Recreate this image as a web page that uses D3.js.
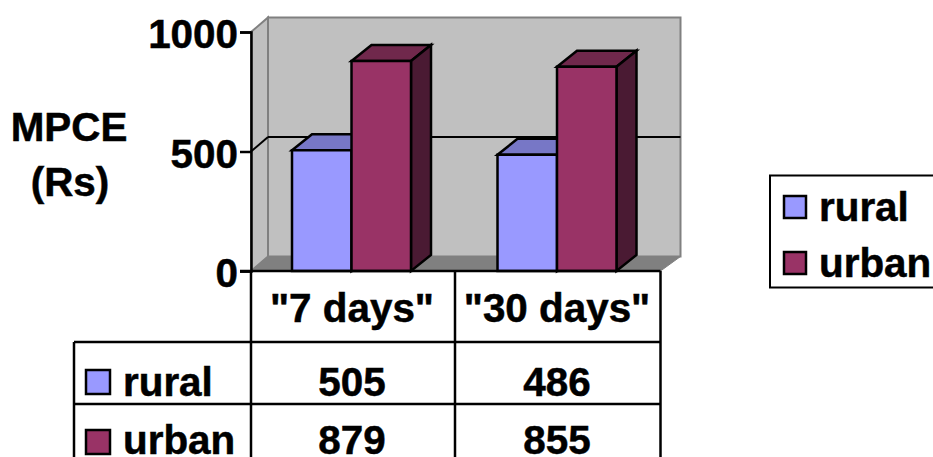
<!DOCTYPE html>
<html><head><meta charset="utf-8">
<script src="https://cdn.jsdelivr.net/npm/d3@7"></script>
<style>html,body{margin:0;padding:0;background:#fff;overflow:hidden}svg{display:block}
text{font-family:"Liberation Sans",Arial,sans-serif;font-weight:700;font-size:40.4px;fill:#000;stroke:#000;stroke-width:.5px}</style>
</head><body><svg id="c" width="933" height="457"></svg>
<script>
const categories = ['"7 days"', '"30 days"'];
const seriesNames = ["rural", "urban"];
const rural = [505, 486];
const urban = [879, 855];
const yTicks = [0, 500, 1000];
const fills = ["#9999FF", "#993366"];
const tops = ["#7777C6", "#70284C"];
const sides = ["#5A5A99", "#4A1A33"];

const svg = d3.select("#c");
const y = d3.scaleLinear().domain([0, 1000]).range([271, 32]);
const x0 = d3.scaleBand().domain(categories).range([251, 662]);
const x1 = d3.scaleBand().domain(seriesNames).range([0, x0.bandwidth()]).paddingOuter(0.727).paddingInner(0).align(0.474);
const tbl = d3.scaleBand().domain(categories).range([250, 660]);
const wd = {x: 17, y: -14.5}, bd = {x: 20, y: -16};
const poly = (pts, fill, stroke, sw) => svg.append("polygon")
  .attr("points", pts.map(p => p.join(",")).join(" "))
  .attr("fill", fill).attr("stroke", stroke || "none").attr("stroke-width", sw || 0).attr("stroke-linejoin", "miter");
const line = (a, b, c, d, col, sw) => svg.append("line").attr("x1", a).attr("y1", b).attr("x2", c).attr("y2", d).attr("stroke", col).attr("stroke-width", sw);

const L = 251, R = 660.5, B = y(0), T = y(1000);
// walls
poly([[L + wd.x, T + wd.y], [R + 20, T + wd.y], [R + 20, B + wd.y], [L + wd.x, B + wd.y]], "#C0C0C0", "#808080", 2);
poly([[L, T], [L + wd.x, T + wd.y], [L + wd.x, B + wd.y], [L, B]], "#C0C0C0", "#808080", 2);
poly([[L, B], [L + wd.x, B + wd.y], [R + 20, B + wd.y], [R, B]], "#808080", "#808080", 1);
// gridline at 500
line(L, y(500), L + wd.x, y(500) + wd.y, "#000", 2);
line(L + wd.x, y(500) + wd.y, R + 20, y(500) + wd.y, "#000", 2);

// bars
const series = [rural, urban];
categories.forEach((c, ci) => {
  seriesNames.forEach((s, si) => {
    const x = x0(c) + x1(s), w = x1.bandwidth(), t = y(series[si][ci]);
    poly([[x, t], [x + bd.x, t + bd.y], [x + w + bd.x, t + bd.y], [x + w, t]], tops[si], "#000", 2.5);
    poly([[x + w, t], [x + w + bd.x, t + bd.y], [x + w + bd.x, B + bd.y], [x + w, B]], sides[si], "#000", 2.5);
    poly([[x, t], [x + w, t], [x + w, B], [x, B]], fills[si], "#000", 2.5);
  });
});

// y axis
const ax = svg.append("g").attr("transform", `translate(${L},0)`)
  .call(d3.axisLeft(y).tickValues(yTicks).tickSize(11).tickPadding(2).tickFormat(d3.format("d")));
ax.selectAll("path,line").attr("stroke", "#000").attr("stroke-width", 2.5);
ax.selectAll("text").attr("fill", "#000").attr("dy", "0.39em");
ax.attr("font-family", null).attr("font-size", null);

// axis title
svg.append("text").attr("x", 69).attr("y", 141).attr("text-anchor", "middle").text("MPCE");
svg.append("text").attr("x", 70).attr("y", 196).attr("text-anchor", "middle").text("(Rs)");

// data table
const rowLines = [342, 404];
const tblLeft = 74;
line(L - 11, B, R, B, "#000", 2.5);
rowLines.forEach(r => line(tblLeft, r, R, r, "#000", 2.5));
line(tblLeft, rowLines[0], tblLeft, 457, "#000", 2.5);
[L, tbl(categories[1]), R].forEach(v => line(v, B, v, 457, "#000", 2.5));
const cx = c => tbl(c) + tbl.bandwidth() / 2 - 0.5;
categories.forEach(c => svg.append("text").attr("x", cx(c)).attr("y", 322).attr("text-anchor", "middle").text(c));
const rowBase = [396, 454], rowSw = [370, 430];
seriesNames.forEach((s, si) => {
  svg.append("rect").attr("x", 86).attr("y", rowSw[si]).attr("width", 24).attr("height", 24).attr("fill", fills[si]).attr("stroke", "#000").attr("stroke-width", 2.5);
  svg.append("text").attr("x", 123).attr("y", rowBase[si]).text(s);
  categories.forEach((c, ci) => svg.append("text").attr("x", cx(c)).attr("y", rowBase[si]).attr("text-anchor", "middle").text(series[si][ci]));
});

// legend
svg.append("rect").attr("x", 770).attr("y", 175.5).attr("width", 200).attr("height", 112).attr("fill", "#fff").attr("stroke", "#000").attr("stroke-width", 2);
seriesNames.forEach((s, si) => {
  const top = [196, 252][si];
  svg.append("rect").attr("x", 784).attr("y", top).attr("width", 22).attr("height", 22).attr("fill", fills[si]).attr("stroke", "#000").attr("stroke-width", 2.5);
  svg.append("text").attr("x", 819).attr("y", top + 25).text(s);
});
</script></body></html>
